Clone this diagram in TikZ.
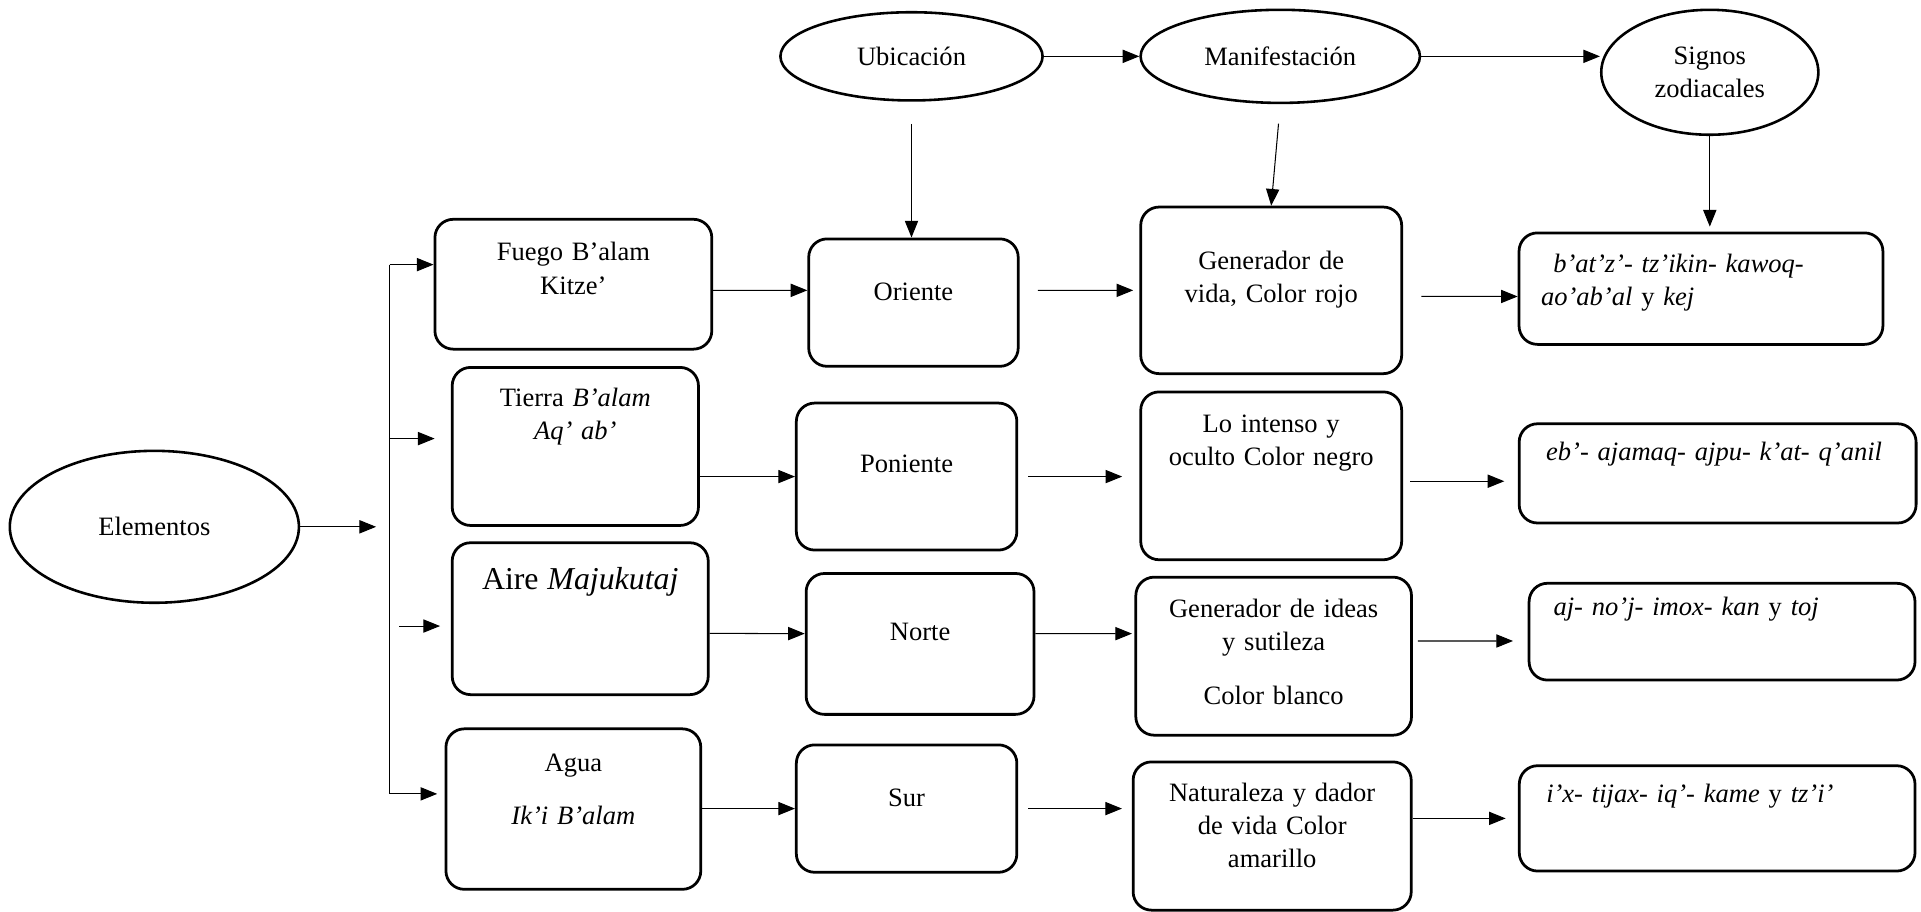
\documentclass[tikz,border=0pt]{standalone}
\usepackage{fontspec}
\setmainfont{Liberation Serif}
\usepackage{tikz}
\usetikzlibrary{arrows.meta,calc,shapes.geometric}

\begin{document}
\begin{tikzpicture}[
  font=\fontsize{15.4pt}{19.2pt}\selectfont,
  elip/.style={draw, ellipse, line width=1.5pt, align=center, inner sep=0pt},
  box/.style={draw, line width=1.6pt, rounded corners=0.375cm, align=center, inner xsep=0.2cm, inner ysep=0.1cm, text height=0.4cm},
  sbox/.style={draw, line width=1.6pt, rounded corners=0.375cm, align=left, inner ysep=0.1cm, text height=0.4cm},
  arr/.style={-{Triangle[length=0.34cm,width=0.27cm]}, line width=0.6pt},
  ln/.style={line width=0.6pt}
]
\useasboundingbox (0,0) rectangle (39.2,-18.6);
% ellipses
\node[elip, minimum width=5.9cm, minimum height=3.1cm] (elem) at (3.15,-10.75) {Elementos};
\node[elip, minimum width=5.35cm, minimum height=1.8cm] (ubic) at (18.6,-1.15) {Ubicación};
\node[elip, minimum width=5.7cm, minimum height=1.9cm] (manif) at (26.125,-1.15) {Manifestación};
\node[elip, minimum width=4.43cm, minimum height=2.55cm] (signos) at (34.89,-1.475) {Signos\\zodiacales};
% elements
\node[box, minimum width=5.65cm, text width=5.25cm, minimum height=2.65cm, text depth=1.35cm] (fuego) at (11.7,-5.8) {Fuego B'alam\\Kitze'};
\node[box, minimum width=5.025cm, text width=4.6cm, minimum height=3.225cm, text depth=2.025cm] (tierra) at (11.74,-9.11) {Tierra \textit{B'alam}\\\textit{Aq' ab'}};
\node[box, minimum width=5.225cm, text width=4.8cm, minimum height=3.1cm, text depth=1.6cm] (aire) at (11.84,-12.625) {{\fontsize{18.5pt}{22pt}\selectfont Aire \textit{Majukutaj}}};
\node[box, minimum width=5.2cm, text width=4.8cm, minimum height=3.275cm, text depth=1.925cm] (agua) at (11.7,-16.51) {Agua\\[0.4cm]\textit{Ik'i B'alam}};
% directions
\node[box, minimum width=4.275cm, text width=3.85cm, minimum height=2.6cm, text depth=0.5cm] (oriente) at (18.64,-6.175) {Oriente};
\node[box, minimum width=4.5cm, text width=4.1cm, minimum height=3.0cm, text depth=0.55cm] (poniente) at (18.5,-9.725) {Poniente};
\node[box, minimum width=4.65cm, text width=4.25cm, minimum height=2.875cm, text depth=0.525cm] (norte) at (18.775,-13.14) {Norte};
\node[box, minimum width=4.5cm, text width=4.1cm, minimum height=2.6cm, text depth=0.5cm] (sur) at (18.5,-16.5) {Sur};
% manifestations
\node[box, minimum width=5.325cm, text width=4.9cm, minimum height=3.4cm, text depth=1.25cm] (genvida) at (25.94,-5.925) {Generador de\\vida, Color rojo};
\node[box, minimum width=5.325cm, text width=4.9cm, minimum height=3.425cm, text depth=2.175cm] (lointenso) at (25.94,-9.71) {Lo intenso y\\oculto Color negro};
\node[box, minimum width=5.625cm, text width=5.2cm, minimum height=3.225cm, text depth=1.975cm] (genideas) at (25.99,-13.39) {Generador de ideas\\y sutileza\\[0.42cm]Color blanco};
\node[box, minimum width=5.675cm, text width=5.25cm, minimum height=3.025cm, text depth=1.825cm] (natur) at (25.96,-17.06) {Naturaleza y dador\\de vida Color\\amarillo};
% signs
\node[sbox, inner xsep=0.45cm, minimum width=7.425cm, text width=6.525cm, minimum height=2.275cm, text depth=1.075cm] (batz) at (34.71,-5.89) {\hspace*{0.25cm}\textit{b'at'z'- tz'ikin- kawoq-}\\\textit{ao'ab'al} y \textit{kej}};
\node[sbox, inner xsep=0.55cm, minimum width=8.1cm, text width=7.0cm, minimum height=2.025cm, text depth=0.925cm] (eb) at (35.05,-9.66) {\textit{eb'- ajamaq- ajpu- k'at- q'anil}};
\node[sbox, inner xsep=0.5cm, minimum width=7.875cm, text width=6.875cm, minimum height=1.975cm, text depth=1.075cm] (aj) at (35.14,-12.89) {\textit{aj- no'j- imox- kan} y \textit{toj}};
\node[sbox, inner xsep=0.55cm, minimum width=8.075cm, text width=6.975cm, minimum height=2.15cm, text depth=1.05cm] (ix) at (35.04,-16.7) {\textit{i'x- tijax- iq'- kame} y \textit{tz'i'}};
% bracket
\coordinate (brk) at (7.675,-10.75);
\coordinate (b1) at (7.95,-5.4);
\coordinate (b2) at (7.95,-8.95);
\coordinate (b3) at (8.15,-12.775);
\coordinate (b4) at (7.95,-16.2);
\draw[arr] (elem.east) -- (brk);
\draw[ln] (b1) -- (b4);
\draw[arr] (b1) -- (b1 -| fuego.west);
\draw[arr, shorten >=0.33cm] (b2) -- (b2 -| tierra.west);
\draw[arr, shorten >=0.22cm] (b3) -- (b3 -| aire.west);
\draw[arr, shorten >=0.15cm] (b4) -- (b4 -| agua.west);
% elements to directions
\draw[arr] ($(fuego.east)+(0,-0.125)$) -- ($(oriente.west)+(0,0.25)$);
\draw[arr] (tierra.east |- poniente.west) -- (poniente.west);
\draw[arr] ($(aire.east)+(0,-0.3)$) -- ($(norte.west)+(0,0.21)$);
\draw[arr] (agua.east |- sur.west) -- (sur.west);
% directions to manifestations
\draw[arr, shorten <=0.375cm, shorten >=0.125cm] ($(oriente.east)+(0,0.25)$) -- (genvida.west);
\draw[arr, shorten <=0.2cm, shorten >=0.35cm] (poniente.east) -- (poniente.east -| lointenso.west);
\draw[arr, shorten >=0.05cm] ($(norte.east)+(0,0.21)$) -- ($(genideas.west)+(0,0.46)$);
\draw[arr, shorten <=0.2cm, shorten >=0.2cm] (sur.east) -- (sur.east -| natur.west);
% manifestations to signs
\draw[arr, shorten <=0.375cm] ($(genvida.east)+(0,-0.125)$) -- ($(batz.west)+(0,-0.16)$);
\draw[arr, shorten <=0.15cm, shorten >=0.275cm] ($(lointenso.east)+(0,-0.11)$) -- ($(eb.west)+(0,-0.16)$);
\draw[arr, shorten <=0.1cm, shorten >=0.3cm] ($(genideas.east)+(0,0.31)$) -- ($(aj.west)+(0,-0.19)$);
\draw[arr, shorten >=0.25cm] (natur.east |- ix.west) -- (ix.west);
% header
\draw[arr] (ubic) -- (manif);
\draw[arr] (manif.east) -- (manif.east -| signos.west);
\draw[arr, shorten <=0.45cm] (ubic.south) -- (ubic.south |- oriente.north);
\draw[arr, shorten <=0.4cm] (manif.south) -- (genvida.north);
\draw[arr, shorten >=0.1cm] (signos.south) -- (signos.south |- batz.north);
\end{tikzpicture}
\end{document}
